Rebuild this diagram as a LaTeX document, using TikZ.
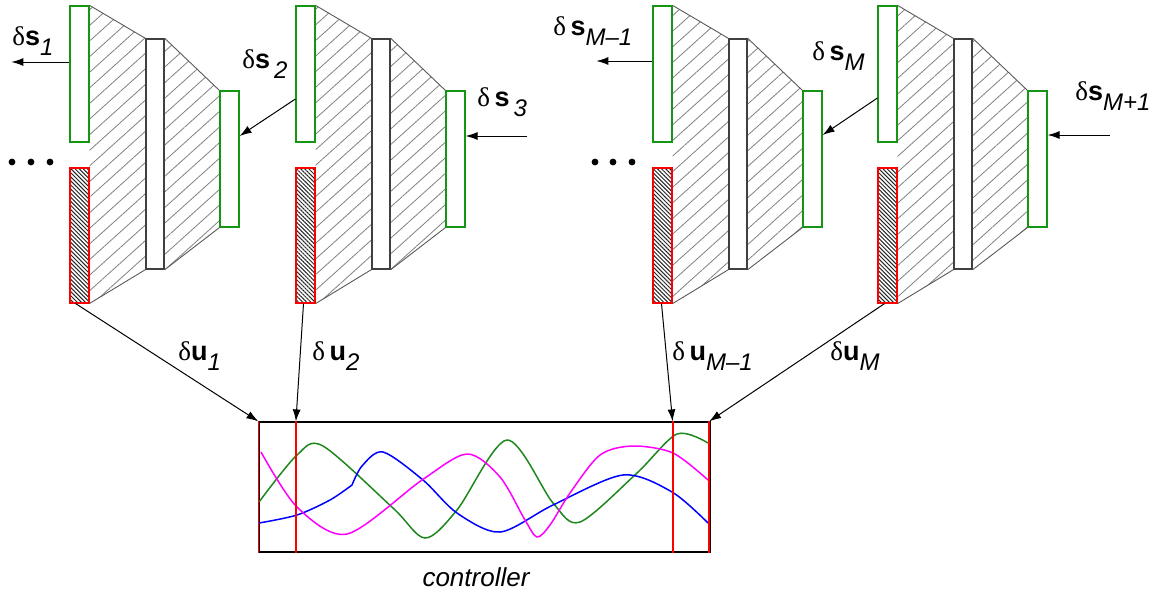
\documentclass[tikz,border=0pt]{standalone}
\usepackage{fontspec}
\setmainfont{Liberation Sans}
\newfontfamily\greekfont{Liberation Serif}
\usepackage{tikz}
\usetikzlibrary{arrows.meta}
\usetikzlibrary{patterns.meta}
\usetikzlibrary{backgrounds}
\usetikzlibrary{calc}
\usepackage{xcolor}

\definecolor{boxgreen}{RGB}{20,150,20}
\definecolor{curvegreen}{RGB}{30,135,30}
\definecolor{curvemag}{RGB}{255,0,255}
\definecolor{curveblue}{RGB}{0,0,255}
\definecolor{markred}{RGB}{255,0,0}

% delta-variable label: delta, bold letter, italic lowered index
\newcommand{\dvar}[3][]{{\greekfont δ}#1\textbf{#2}\raisebox{-5pt}{\fontsize{12}{13}\selectfont\itshape #3}}

\tikzset{
  gbox/.style = {draw=boxgreen, fill=white, line width=0.6pt, minimum width=9.5pt, minimum height=68pt, inner sep=0pt},
  ubox/.style = {draw=markred, line width=0.6pt, minimum width=9.5pt, minimum height=67.5pt, inner sep=0pt,
                 preaction={fill=white}, pattern={Lines[angle=-45,distance=1.45pt,line width=0.5pt]}, pattern color=black!85},
  mbox/.style = {draw=black!75, fill=white, line width=0.7pt, minimum width=9pt, minimum height=115pt, inner sep=0pt},
  hatch/.style = {pattern={Lines[angle=42,distance=5.8pt,line width=0.4pt]}, pattern color=gray},
  edge/.style = {draw=black!65, line width=0.45pt},
  arr/.style = {-{Latex[length=6pt,width=4pt]}, line width=0.5pt},
  lbl/.style = {anchor=base west, inner sep=0pt, font=\fontsize{13.5}{15}\selectfont},
  redline/.style = {draw=markred, line width=0.9pt},
}

\begin{document}
\begin{tikzpicture}[x=0.5pt, y=-0.5pt]
        \useasboundingbox (0,0) rectangle (1160,590);

        % the four stages
        \foreach \bx [count=\i] in {70,296,653,878} {
          \node[gbox] (top\i) at (\bx+9.5,74) {};
          \node[ubox] (ctl\i) at (\bx+9.5,235.5) {};
          \node[mbox] (mid\i) at (\bx+85,154) {};
          \node[gbox] (out\i) at (\bx+159.5,159) {};
          \begin{scope}[on background layer]
            \fill[hatch] (top\i.north east) -- (mid\i.north west) -- (mid\i.south west) -- (ctl\i.south east) -- cycle;
            \fill[hatch] (mid\i.north east) -- (out\i.north west) -- (out\i.south west) -- (mid\i.south east) -- cycle;
          \end{scope}
          \draw[edge] (top\i.north east) -- (mid\i.north west) (ctl\i.south east) -- (mid\i.south west);
          \draw[edge] (mid\i.north east) -- (out\i.north west) (mid\i.south east) -- (out\i.south west);
        }

        \foreach \d in {12,31,50,595,613,632}
          \fill (\d,162) circle (1.7pt);

        % controller
        \node[draw, line width=0.6pt, minimum width=225.5pt, minimum height=65pt, inner sep=0pt] (ctrl) at (484.5,487) {};
        \node[anchor=base, inner sep=0pt, font=\fontsize{13}{15}\selectfont\itshape] (ctrllbl) at (476,586) {controller};

        \draw[curvegreen, line width=0.75pt] plot[smooth] coordinates {(259,502) (297,455) (323,446) (393,508) (425,538)
              (457,510) (507,440) (553,503) (580,522) (637,473) (677,434) (708,443)};
        \draw[curveblue, line width=0.75pt] plot[smooth] coordinates {(259,523) (297,515) (330,500) (352,485)}
              plot[smooth] coordinates {(352,485) (362,466) (383,452) (423,480) (457,513) (500,532) (553,505)
              (623,475) (672,492) (708,523)};
        \draw[curvemag, line width=0.75pt] plot[smooth] coordinates {(261,452) (297,507) (347,534) (422,480) (467,454)
              (500,477) (525,520) (537,537) (550,525) (570,493) (600,455) (633,446) (673,453) (708,480)};

        \coordinate (in1) at (ctrl.north west);
        \coordinate (in2) at ($(ctrl.north west)+(37.5,0)$);
        \coordinate (in3) at ($(ctrl.north east)+(-38,0)$);
        \coordinate (in4) at ($(ctrl.north east)+(-1.5,0)$);
        \draw[redline] (in1) -- (in1 |- ctrl.south);
        \draw[redline] (in2) -- (in2 |- ctrl.south);
        \draw[redline] (in3) -- (in3 |- ctrl.south);
        \draw[redline] (in4) -- (in4 |- ctrl.south);

        % state arrows
        \draw[arr] ([yshift=6pt]top1.west) -- ++(-58,0);
        \draw[arr] ([yshift=-12.5pt]top2.west) -- ([yshift=11.5pt]out1.east);
        \coordinate (feed3) at ($(out2.east)+(61,-23)$);
        \draw[arr] (feed3) -- (feed3 -| out2.east);
        \draw[arr] ([yshift=6.5pt]top3.west) -- ++(-56,0);
        \draw[arr] ([yshift=-12pt]top4.west) -- ([yshift=12pt]out3.east);
        \coordinate (feed5) at ($(out4.east)+(62,-24)$);
        \draw[arr] (feed5) -- (feed5 -| out4.east);

        % control arrows
        \draw[arr] ([xshift=-2pt]ctl1.south) -- (in1);
        \draw[arr] ([xshift=-1pt]ctl2.south) -- (in2);
        \draw[arr] ([xshift=-0.5pt]ctl3.south) -- (in3);
        \draw[arr] ([xshift=-1.5pt]ctl4.south) -- (in4);

        \node[lbl] (ls1) at (12,45) {\dvar{s}{1}};
        \node[lbl] (ls2) at (242,68) {\dvar{s}{\,2}};
        \node[lbl] (ls3) at (477,106) {\dvar[\,]{s}{\,3}};
        \node[lbl] (lsm1) at (553,35) {\dvar[\,]{s}{M\textendash1}};
        \node[lbl] (lsm) at (812,60) {\dvar[\,]{s}{M}};
        \node[lbl] (lsm2) at (1075,100) {\dvar{s}{M+1}};
        \node[lbl] (lu1) at (178,360) {\dvar{u}{1}};
        \node[lbl] (lu2) at (312,360) {\dvar[\,]{u}{2}};
        \node[lbl] (lum1) at (672,360) {\dvar[\,]{u}{M\textendash1}};
        \node[lbl] (lum) at (830,360) {\dvar{u}{M}};

    \end{tikzpicture}
\end{document}
